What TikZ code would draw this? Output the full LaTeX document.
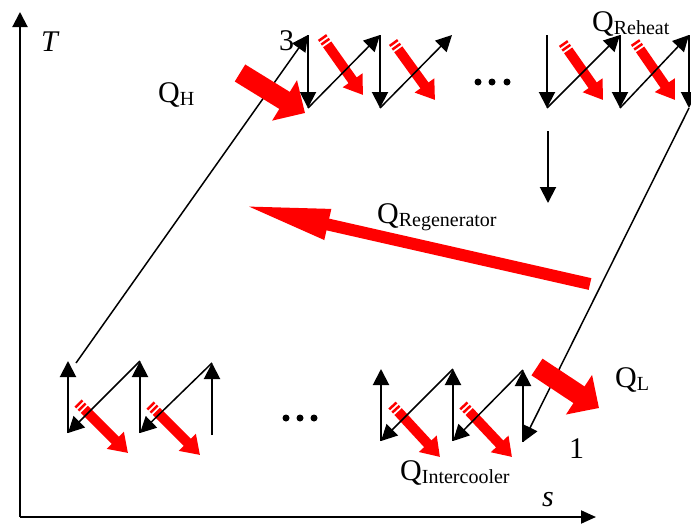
\documentclass[tikz,border=0pt]{standalone}
\usepackage{fontspec}
\setmainfont{Liberation Serif}
\usetikzlibrary{arrows.meta}
\newcommand{\heatq}[1]{Q\raisebox{-3pt}{\fontsize{20}{20}\selectfont #1}}

\begin{document}
\begin{tikzpicture}[x=1pt, y=-1pt, font=\fontsize{30}{32}\selectfont, line join=round, >={Triangle[length=16pt,width=16pt]}]
	\tikzset{every node/.style={inner sep=0pt, anchor=base west}}
	\tikzset{proc/.style={->, line width=1.5pt},
		stroke/.style={->, line width=2pt},
		heatbig/.style={red, line width=20pt, -{Triangle[length=24pt,width=46pt]}},
		heatsmall/.style={red, line width=10pt, dash pattern=on 2.5pt off 2pt on 2.5pt off 2pt on 300pt, -{Triangle[length=18pt,width=23pt]}},
		heatregen/.style={red, line width=12pt, -{Triangle[length=88pt,width=28pt]}}}
	\useasboundingbox (0,0) rectangle (691,525);
	% axes
	\coordinate (O) at (20,517);
	\coordinate (Tend) at (20,12);
	\coordinate (send) at (596,517);
	\draw[line width=2pt, -{Triangle[length=15pt,width=15pt]}] (O) -- (Tend);
	\draw[line width=2pt, -{Triangle[length=15pt,width=13pt]}] (O) -- (send);
	\node (tlab) at (41,51) {\textit{T}};
	\node (slab) at (542,506) {\textit{s}};
	% reheat and intercooler heat
	\foreach \a/\b/\c/\d in {322/37/363/95, 393/42/435/100, 563/43/603/100, 635/42/675/100,
		78/403/128/453, 150/405/200/455, 392/405/440/457, 463/405/512/457}
	{\coordinate (ht) at (\a,\b);
		\coordinate (hh) at (\c,\d);
		\draw[heatsmall] (ht) -- (hh);}
	% turbines and reheaters
	\foreach \n/\x in {t1/308, t2/380, t3/452, t4/547, t5/620, t6/689}
	{\coordinate (\n a) at (\x,35);
		\coordinate (\n b) at (\x,108);}
	\foreach \n in {t1,t2,t4,t5,t6}
	\draw[stroke] (\n a) -- (\n b);
	\foreach \n/\m in {t1/t2, t2/t3, t4/t5, t5/t6}
	\draw[proc] (\n b) -- (\m a);
	\coordinate (more1) at (548,131);
	\coordinate (more2) at (548,203);
	\draw[stroke] (more1) -- (more2);
	% compressors and intercoolers
	\foreach \n/\x/\y in {c1/523/442, c2/453/441, c3/381/441, c4/212/435, c5/140/433, c6/68/433}
	{\coordinate (\n a) at (\x,\y);
		\coordinate (\n b) at (\x,{\y-72});}
	\foreach \n in {c1,c2,c3,c4,c5,c6}
	\draw[stroke] (\n a) -- (\n b);
	\foreach \n/\m in {c1/c2, c2/c3, c4/c5, c5/c6}
	\draw[proc] (\n b) -- (\m a);
	% regenerator lines
	\coordinate (rstart) at (76,363);
	\draw[proc] (rstart) -- (t1a);
	\draw[proc] (t6b) -- (c1a);
	\foreach \x in {478,492,507}
	\fill (\x,82) circle (3.5pt);
	\foreach \x in {286,300,314}
	\fill (\x,418) circle (3.5pt);
	\node (n3) at (279,50) {3};
	\node (n1) at (569,458) {1};
	% big heat flows
	\coordinate (hin) at (240,73);
	\coordinate (hin2) at (305,113);
	\draw[heatbig] (hin) -- (hin2);
	\coordinate (lout) at (537,367);
	\coordinate (lout2) at (599,408);
	\draw[heatbig] (lout) -- (lout2);
	\coordinate (rg1) at (590,284);
	\coordinate (rg2) at (242,205);
	\draw[heatregen] (rg1) -- (rg2);
	\node (qh) at (158,102) {\heatq{H}};
	\node (qre) at (592,31) {\heatq{Reheat}};
	\node (qrg) at (377,223) {\heatq{Regenerator}};
	\node (ql) at (615,387) {\heatq{L}};
	\node (qi) at (400,480) {\heatq{Intercooler}};
\end{tikzpicture}
\end{document}
